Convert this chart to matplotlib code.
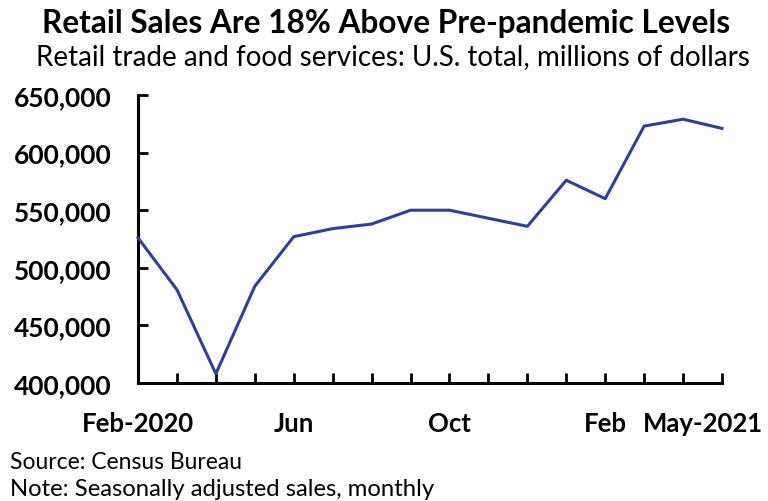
import matplotlib
matplotlib.use("Agg")
import matplotlib.pyplot as plt
import matplotlib.transforms as mtransforms
from matplotlib.ticker import FuncFormatter

months = ["Feb-2020", "Mar", "Apr", "May", "Jun", "Jul", "Aug", "Sep", "Oct",
          "Nov", "Dec", "Jan", "Feb", "Mar", "Apr", "May-2021"]
sales = [526000, 481000, 408000, 484000, 527000, 534000, 538000, 550000, 550000,
         543000, 536000, 576000, 560000, 623000, 629000, 621000]
label_positions = [0, 4, 8, 12, 15]
label_texts = ["Feb-2020", "Jun", "Oct", "Feb", "May-2021"]
y_ticks = [400000, 450000, 500000, 550000, 600000, 650000]

plt.rcParams['font.family'] = ['Lato', 'DejaVu Sans']

fig = plt.figure(figsize=(7.68, 5.02), dpi=100)
ax = fig.add_axes([138/768, 1-384/502, (722-138)/768, (384-96)/502])

x = list(range(len(months)))
ax.plot(x, sales, color="#2E3F9E", linewidth=2.2, clip_on=False, zorder=3)

ax.set_xlim(0, len(months) - 1)
ax.set_ylim(400000, 650000)
ax.set_yticks(y_ticks)
ax.yaxis.set_major_formatter(FuncFormatter(lambda v, p: f"{int(v):,}"))
ax.set_xticks(x)
ax.set_xticklabels([""] * len(x))

for s in ["top", "right"]:
    ax.spines[s].set_visible(False)
for s in ["left", "bottom"]:
    ax.spines[s].set_linewidth(2.2)
    ax.spines[s].set_color("black")

ax.tick_params(axis="both", direction="in", length=7, width=2, color="black")
ax.tick_params(axis="y", labelsize=19, pad=19)
for lbl in ax.get_yticklabels():
    lbl.set_fontweight("bold")

for pos, txt in zip(label_positions, label_texts):
    off = 0
    if pos == len(months) - 1:
        off = -19
    trans = ax.get_xaxis_transform() + mtransforms.ScaledTranslation(off/100, 0, fig.dpi_scale_trans)
    ax.text(pos, -0.14, txt, transform=trans, ha="center", va="center",
            fontsize=18.5, fontweight="bold")

fig.text(386/768, 1-24/502, "Retail Sales Are 18% Above Pre-pandemic Levels",
         ha="center", va="center", fontsize=22.8, fontweight="bold")
fig.text(393/768, 1-57/502, "Retail trade and food services: U.S. total, millions of dollars",
         ha="center", va="center", fontsize=20)
fig.text(10/768, 1-463/502, "Source: Census Bureau", ha="left", va="center", fontsize=16.5)
fig.text(10/768, 1-490/502, "Note: Seasonally adjusted sales, monthly", ha="left", va="center", fontsize=17.2)

fig.savefig("out.png", dpi=100)
